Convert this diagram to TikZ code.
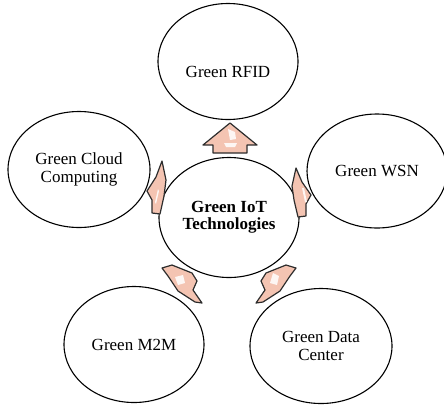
\documentclass[tikz,border=0pt]{standalone}
\usepackage{fontspec}
\setmainfont{Liberation Serif}
\usetikzlibrary{shapes.geometric}
\definecolor{arrfill}{RGB}{244,196,178}
\definecolor{arrline}{RGB}{45,45,45}
\begin{document}
\begin{tikzpicture}[x=1pt,y=-1pt,
  bub/.style={draw=black, line width=1.1pt, ellipse, inner sep=0pt, align=center,
              font=\fontsize{17}{17.5}\selectfont},
  lbl/.style={inner sep=0pt, align=center, font=\fontsize{17}{17.5}\selectfont},
  blk/.style={fill=arrfill, draw=arrline, line width=1.2pt, line join=round},
  hl/.style={fill=white, draw=none, opacity=0.85}]
\useasboundingbox (0,0) rectangle (444,405);
% bubbles
\node[bub, minimum width=140pt, minimum height=116pt] (rfid) at (228,61.5) {};
\node[lbl] (rfidtxt) at ([yshift=-10pt]rfid.center) {Green RFID};
\node[bub, minimum width=140pt, minimum height=120pt, font=\fontsize{17}{17}\selectfont\bfseries] (core) at (229,217.5) {Green IoT\\Technologies};
\node[bub, minimum width=142pt, minimum height=116pt] (cloud) at (79,169.5) {Green Cloud\\Computing};
\node[bub, minimum width=140pt, minimum height=114pt] (wsn) at (377,171) {Green WSN};
\node[bub, minimum width=140pt, minimum height=116pt] (m2m) at (134,344.5) {Green M2M};
\node[bub, minimum width=142pt, minimum height=115pt] (dc) at (321,346) {Green Data\\Center};
% block arrows
\draw[blk] (230,123) -- (257,145) -- (247,145) -- (247,153) -- (213,153) -- (213,145) -- (203,145) -- cycle;
\fill[hl] (228,129) -- (235,132) -- (236,139) -- (230,140) -- cycle;
\fill[hl] (224,143) -- (237,143) -- (235,147) -- (226,147) -- cycle;
\draw[blk] (162,161) -- (166,180) -- (164,196) -- (160,214) -- (152,213) -- (152,200) -- (147,191) -- (156,177) -- cycle;
\fill[hl] (158,189) -- (159,191) -- (156,204) -- (155,202) -- cycle;
\draw[blk] (296,168) -- (292,186) -- (294,200) -- (298,217) -- (306,216) -- (306,204) -- (311,195) -- (302,182) -- cycle;
\fill[hl] (302,188) -- (304,188) -- (307,202) -- (305,202) -- cycle;
\draw[blk] (162,268) -- (172,265) -- (192,273) -- (197,281) -- (193,290) -- (202,303) -- (195,302) -- (178,291) -- (168,276) -- cycle;
\fill[hl] (175,277) -- (183,275) -- (185,283) -- (178,285) -- cycle;
\draw[blk] (296,268) -- (286,265) -- (266,273) -- (261,281) -- (265,290) -- (256,303) -- (263,302) -- (280,291) -- (290,276) -- cycle;
\fill[hl] (273,273) -- (279,276) -- (277,285) -- (270,283) -- cycle;
\end{tikzpicture}
\end{document}
